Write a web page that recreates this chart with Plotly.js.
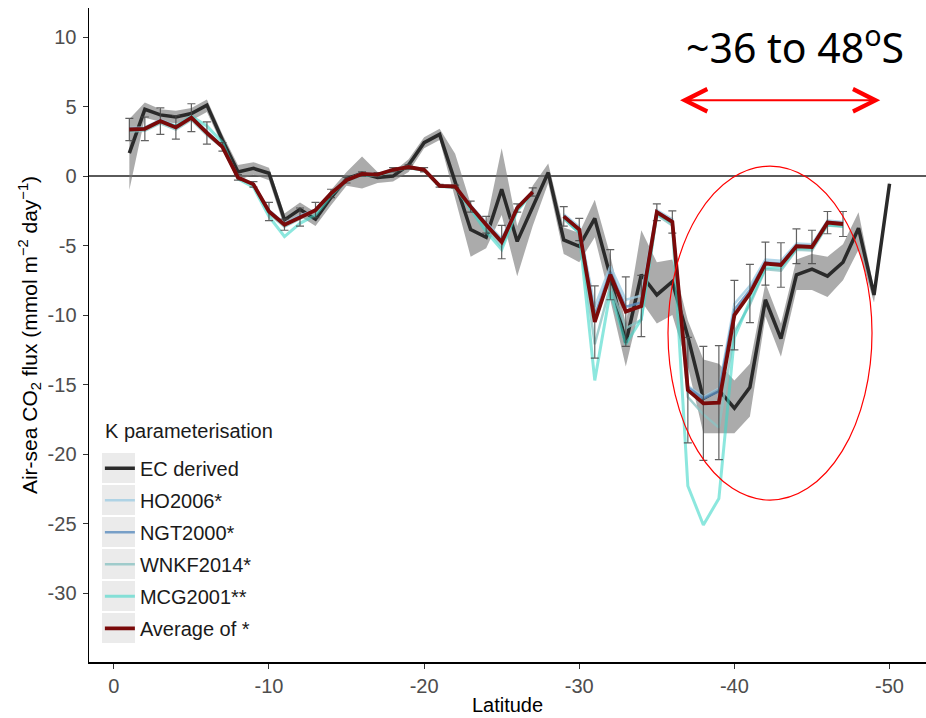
<!DOCTYPE html>
<html>
<head>
<meta charset="utf-8">
<script src="https://cdn.plot.ly/plotly-3.0.1.min.js"></script>
<style>html,body{margin:0;padding:0;background:#fff;}#chart{width:926px;height:718px;}</style>
</head>
<body>
<div id="chart"></div>
<script>
var latitude = [-1,-2,-3,-4,-5,-6,-7,-8,-9,-10,-11,-12,-13,-14,-15,-16,-17,-18,-19,-20,-21,-22,-23,-24,-25,-26,-27,-28,-29,-30,-31,-32,-33,-34,-35,-36,-37,-38,-39,-40,-41,-42,-43,-44,-45,-46,-47,-48,-49,-50];

var ecDerived = [1.65,4.8,4.4,4.25,4.5,5.1,2.6,0.3,0.55,0.2,-3.15,-2.4,-3.1,-1.55,-0.2,0.2,-0.1,0.0,0.8,2.4,3.0,-0.4,-3.85,-4.4,-0.95,-4.7,-2.2,0.25,-4.6,-5.05,-3.05,-7.2,-12.0,-7.1,-8.55,-7.6,-11.55,-16.0,-15.4,-16.7,-15.2,-8.9,-11.7,-7.1,-6.7,-7.2,-6.2,-3.75,-8.55,-0.55];
var ecUpper = [4.1,5.3,4.8,4.7,4.9,5.5,3.0,0.8,1.0,0.6,-2.7,-1.9,-2.6,-1.0,0.3,1.4,0.3,0.3,1.2,2.8,3.4,1.6,-2.0,-3.4,2.0,-3.6,-0.7,0.9,-3.7,-4.1,-1.7,-5.7,-10.6,-3.9,-6.2,-6.0,-10.4,-13.2,-13.5,-14.7,-13.5,-7.7,-10.6,-6.0,-5.6,-5.8,-4.9,-2.6,-8.1,-0.4];
var ecLower = [-1.0,4.2,3.9,3.8,4.0,4.6,2.2,-0.3,0.1,-0.3,-3.7,-2.9,-3.6,-2.1,-0.7,-0.9,-0.5,-0.4,0.3,2.0,2.6,-1.5,-5.8,-5.2,-2.8,-7.2,-3.6,-0.5,-5.6,-6.2,-4.4,-8.9,-13.7,-9.0,-10.6,-10.0,-13.7,-18.5,-18.5,-18.5,-17.3,-10.1,-13.0,-8.2,-8.2,-8.7,-7.5,-5.3,-9.1,-0.7];

var ho2006 = [3.45,3.5,4.05,3.6,4.3,3.2,2.15,-0.05,-0.55,-2.45,-3.4,-2.85,-2.4,-1.2,-0.25,0.2,0.15,0.5,0.7,0.5,-0.65,-0.7,-2.1,-3.35,-4.5,-2.2,-1.1,null,-2.75,-3.65,-9.4,-6.5,-8.9,-8.6,-2.45,-3.1,-15.1,-15.9,-15.3,-9.2,-7.9,-6.0,-6.1,-4.85,-4.9,-3.2,-3.3,null,null,null];
var ngt2000 = [3.4,3.45,4.0,3.55,4.25,3.15,2.1,-0.1,-0.6,-2.5,-3.45,-2.9,-2.45,-1.25,-0.3,0.15,0.1,0.45,0.65,0.45,-0.7,-0.75,-2.15,-3.45,-4.65,-2.25,-1.15,null,-2.85,-3.8,-10.0,-6.9,-9.4,-9.1,-2.55,-3.25,-15.2,-16.0,-15.5,-9.6,-8.2,-6.2,-6.3,-5.0,-5.05,-3.3,-3.4,null,null,null];
var wnkf2014 = [3.2,3.25,3.8,3.35,4.05,2.95,2.05,-0.15,-0.65,-2.7,-3.65,-3.1,-2.5,-1.3,-0.35,0.1,0.05,0.4,0.6,0.4,-0.75,-0.8,-2.35,-3.7,-5.1,-2.45,-1.2,null,-3.1,-4.1,-12.1,-7.9,-10.95,-10.35,-2.8,-3.55,-15.9,-17.15,-18.1,-11.2,-9.25,-6.7,-6.8,-5.3,-5.35,-3.55,-3.65,null,null,null];
var mcg2001 = [3.3,3.4,3.9,3.6,4.3,3.6,2.4,-0.2,-0.8,-2.9,-4.35,-3.4,-2.8,-1.4,-0.35,0.1,0.05,0.4,0.6,0.4,-0.75,-0.8,-2.4,-4.0,-5.3,-2.5,-1.2,null,-3.0,-4.1,-14.7,-8.3,-12.1,-10.3,-2.7,-3.4,-22.3,-25.1,-23.2,-11.6,-9.0,-6.6,-6.6,-5.2,-5.2,-3.5,-3.6,null,null,null];
var averageStar = [3.35,3.4,3.95,3.5,4.2,3.1,2.1,-0.1,-0.6,-2.55,-3.5,-2.95,-2.45,-1.25,-0.3,0.15,0.1,0.45,0.65,0.45,-0.7,-0.75,-2.2,-3.5,-4.75,-2.3,-1.15,null,-2.9,-3.85,-10.5,-7.1,-9.75,-9.35,-2.6,-3.3,-15.4,-16.35,-16.3,-10.0,-8.45,-6.3,-6.4,-5.05,-5.1,-3.35,-3.45,null,null,null];
var averageErr = [0.8,0.85,0.95,0.85,1.0,0.8,0.3,0.2,0.2,0.65,0.4,0.65,0.55,0.3,0.2,0.15,0.15,0.15,0.15,0.15,0.1,0.1,0.4,0.6,1.2,0.3,0.3,null,0.7,0.8,2.6,1.8,2.5,2.2,0.6,0.8,3.8,4.1,4.1,2.5,2.1,1.55,1.6,1.25,1.2,0.8,0.9,null,null,null];

var xTicks = [0,-10,-20,-30,-40,-50];
var yTicks = [10,5,0,-5,-10,-15,-20,-25,-30];
var legendNames = ['EC derived','HO2006*','NGT2000*','WNKF2014*','MCG2001**','Average of *'];
var legendTitle = 'K parameterisation';

var FONT = 'Liberation Sans, Arial, sans-serif';

var traces = [
  {x: latitude, y: ecLower, type:'scatter', mode:'lines', line:{width:0, color:'rgba(0,0,0,0)'}, showlegend:false, hoverinfo:'skip', legendgroup:'r'},
  {x: latitude, y: ecUpper, type:'scatter', mode:'lines', line:{width:0, color:'rgba(0,0,0,0)'}, fill:'tonexty', fillcolor:'rgba(120,120,120,0.62)', showlegend:false, hoverinfo:'skip', legendgroup:'r'},
  {x: latitude, y: ecDerived, type:'scatter', mode:'lines', name: legendNames[0], legendgroup:'g0', line:{color:'#2a2a2a', width:3.5}},
  {x: latitude, y: ho2006, type:'scatter', mode:'lines', name: legendNames[1], legendgroup:'g1', line:{color:'rgba(160,205,228,0.8)', width:2.5}},
  {x: latitude, y: ngt2000, type:'scatter', mode:'lines', name: legendNames[2], legendgroup:'g2', line:{color:'rgba(90,140,190,0.8)', width:2.5}},
  {x: latitude, y: wnkf2014, type:'scatter', mode:'lines', name: legendNames[3], legendgroup:'g3', line:{color:'rgba(140,195,195,0.8)', width:2.5}},
  {x: latitude, y: mcg2001, type:'scatter', mode:'lines', name: legendNames[4], legendgroup:'g4', line:{color:'rgba(64,215,200,0.6)', width:3}},
  {x: latitude, y: averageStar, type:'scatter', mode:'lines', name: legendNames[5], legendgroup:'g5', line:{color:'#7a0a0a', width:3.8},
   error_y:{type:'data', array: averageErr, visible:true, color:'rgba(70,70,70,0.85)', thickness:1.2, width:4}}
];

// light grey legend key backgrounds (decoration, paper coordinates)
var keyCentersPx = [468, 500, 532, 564, 596, 628];
var keyShapes = keyCentersPx.map(function(c){
  return {type:'rect', xref:'paper', yref:'paper', layer:'below',
    x0:(102-89)/837, x1:(135-89)/837, y0:(662-(c-15))/654, y1:(662-(c+15))/654,
    fillcolor:'#ebebeb', line:{width:0}};
});

var layout = {
  width: 926, height: 718,
  margin: {l:89, r:0, t:8, b:56},
  paper_bgcolor:'#fff', plot_bgcolor:'#fff',
  font: {family: FONT, color:'#1a1a1a'},
  showlegend: true,
  xaxis: {
    range: [1.6, -52.35], tickvals: xTicks, ticktext: xTicks.map(String),
    showline:true, linecolor:'#000', linewidth:1.5, mirror:false,
    ticks:'outside', ticklen:5, tickwidth:1, tickcolor:'#333',
    tickfont:{size:20, color:'#4d4d4d', family:FONT},
    showgrid:false, zeroline:false,
    title:{text:'Latitude', font:{size:20, color:'#000', family:FONT}, standoff:2}
  },
  yaxis: {
    range: [-34.96, 12.09], tickvals: yTicks, ticktext: yTicks.map(String),
    showline:true, linecolor:'#000', linewidth:1.5,
    ticks:'outside', ticklen:5, tickwidth:1, tickcolor:'#333',
    ticklabelstandoff: 2,
    tickfont:{size:20, color:'#4d4d4d', family:FONT},
    showgrid:false, zeroline:true, zerolinecolor:'#5a5a5a', zerolinewidth:2,
    title:{text:'Air-sea CO<sub>2</sub> flux (mmol m<sup>\u22122</sup> day<sup>\u22121</sup>)', font:{size:21, color:'#000', family:FONT}, standoff:4}
  },
  legend: {
    x: 0.013, y: 0.326, xanchor:'left', yanchor:'top',
    bgcolor:'rgba(0,0,0,0)', borderwidth:0,
    font:{size:20, color:'#1a1a1a', family:FONT},
    tracegroupgap: 3, traceorder:'grouped'
  },
  shapes: [
    {type:'circle', xref:'x', yref:'y', x0:-35.72, x1:-48.87, y0:0.72, y1:-23.31, line:{color:'#ff0000', width:1.2}}
  ].concat(keyShapes),
  annotations: [
    {xref:'paper', yref:'paper', x:(103-89)/837, y:(662-431)/654, xanchor:'left', yanchor:'middle', showarrow:false,
     text: legendTitle, font:{size:20, color:'#1a1a1a', family:FONT}},
    {xref:'x', yref:'y', axref:'x', ayref:'y', x:-49.4, y:5.45, ax:-36.4, ay:5.45, text:'', showarrow:true,
     arrowside:'end+start', arrowhead:5, startarrowhead:5, arrowsize:2.2, startarrowsize:2.2, arrowwidth:2, arrowcolor:'#ff0000', standoff:0, startstandoff:0},
    {xref:'paper', yref:'paper', x:0.8435, y:0.9434, xanchor:'center', yanchor:'middle', showarrow:false,
     text:'~36 to 48<sup>o</sup>S', font:{family:'Noto Sans, Open Sans, sans-serif', size:41, color:'#000'}}
  ]
};

Plotly.newPlot('chart', traces, layout, {staticPlot:true, displayModeBar:false});
</script>
</body>
</html>
